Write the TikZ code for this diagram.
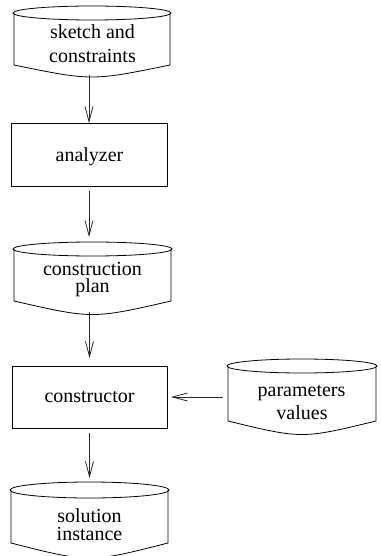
\documentclass[tikz,border=0pt]{standalone}
\usepackage{fontspec}
\setmainfont{Liberation Serif}
\usetikzlibrary{arrows.meta}
\tikzset{
  holder/.style={inner sep=0pt, outer sep=0pt, draw=none},
  outline/.style={draw=black, line width=0.8pt},
  boxshape/.style={holder, outline},
  label/.style={anchor=base, inner sep=0pt, font=\fontsize{20}{24}\selectfont},
  flow/.style={draw=black!85, line width=0.9pt, -{Straight Barb[length=15pt,width=8pt,line width=0.8pt]}}
}
% #1 node name, #2 ellipse y radius, #3 bottom bulge, #4 ellipse x radius
\newcommand\drumoutline[4]{%
  \draw[outline] ([yshift=-#2]#1.north) ellipse [x radius=#4, y radius=#2];
  \draw[outline] ([yshift=-#2]#1.north west) -- ([yshift=#3]#1.south west)
     .. controls ([yshift=-#3]#1.south) .. ([yshift=#3]#1.south east)
     -- ([yshift=-#2]#1.north east);
}
\begin{document}
\begin{tikzpicture}[x=1pt,y=-1pt]
\useasboundingbox (0,0) rectangle (380,556);
% shapes
\node[holder, minimum width=156pt, minimum height=67pt] (sk) at (92,39.5) {};
\drumoutline{sk}{7pt}{8pt}{79pt}
\node[boxshape, minimum width=156pt, minimum height=63pt] (an) at (89,154.5) {};
\node[holder, minimum width=157pt, minimum height=68pt] (cp) at (92.5,276) {};
\drumoutline{cp}{7pt}{9pt}{79.5pt}
\node[boxshape, minimum width=155pt, minimum height=62pt] (co) at (89.5,397) {};
\node[holder, minimum width=148pt, minimum height=71pt] (pv) at (302,394.5) {};
\drumoutline{pv}{7pt}{9pt}{75pt}
\node[holder, minimum width=157pt, minimum height=71pt] (si) at (89.5,517.5) {};
\drumoutline{si}{8pt}{10pt}{79.5pt}
% texts
\node[label] (sk1) at (92.5,39) {sketch and};
\node[label] (sk2) at (92.5,63) {constraints};
\node[label] (an1) at (89.5,161) {analyzer};
\node[label] (cp1) at (92.5,275) {construction};
\node[label] (cp2) at (92.5,292.5) {plan};
\node[label] (co1) at (89.5,402) {constructor};
\node[label] (pv1) at (301.5,396.5) {parameters};
\node[label] (pv2) at (302,419.5) {values};
\node[label] (si1) at (89.5,522.5) {solution};
\node[label] (si2) at (89.5,540.5) {instance};
% connectors
\draw[flow, shorten <=2pt] (sk.south -| an.north) -- (an.north);
\draw[flow, shorten <=5pt, shorten >=5pt] (an.south) -- (an.south |- cp.north);
\draw[flow, shorten <=2pt, shorten >=8pt] (cp.south -| co.north) -- (co.north);
\draw[flow, shorten <=5pt, shorten >=4pt] (co.south) -- (co.south |- si.north);
\draw[flow, shorten <=5pt, shorten >=4pt] (co.east -| pv.west) -- (co.east);
\end{tikzpicture}
\end{document}
